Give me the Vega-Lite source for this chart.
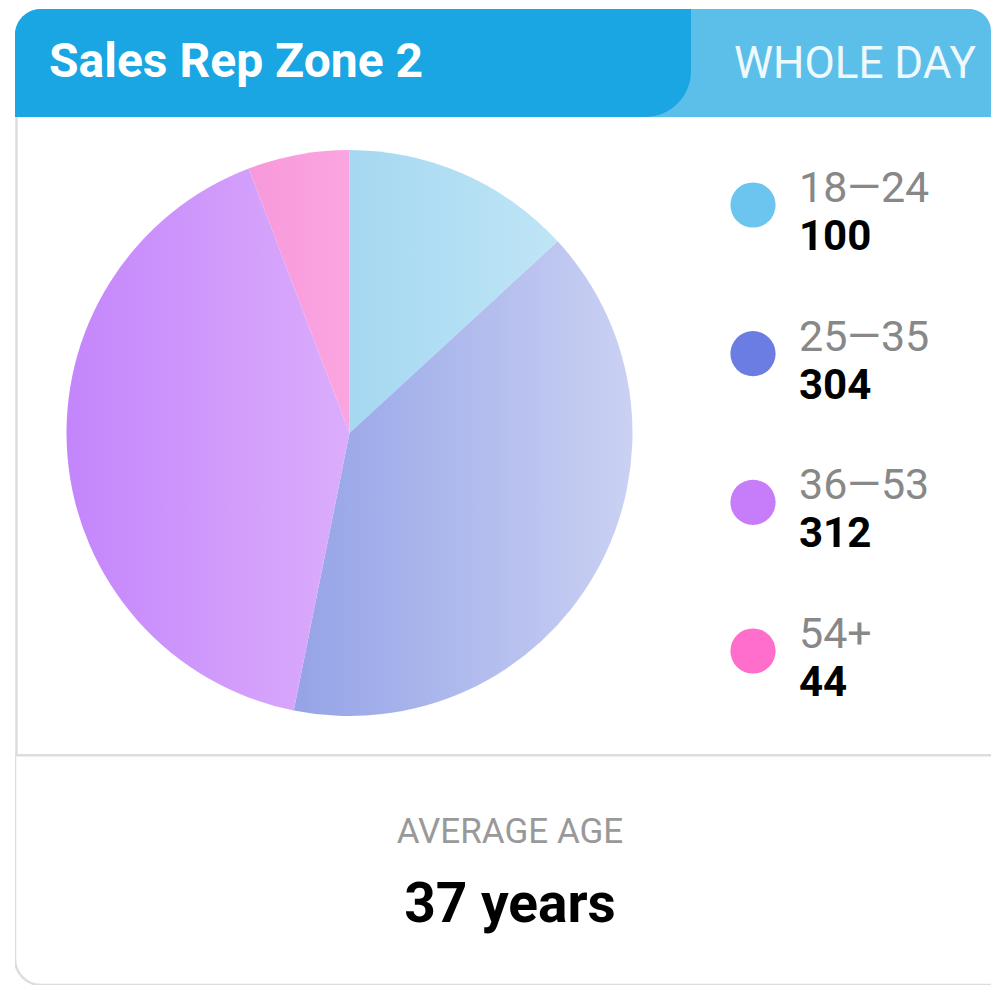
{
  "$schema": "https://vega.github.io/schema/vega-lite/v6.json",
  "background": "white",
  "padding": {"left": 15, "top": 9, "right": 0, "bottom": 0},
  "config": {"view": {"stroke": null}, "font": "Roboto", "text": {"font": "Roboto"}},
  "spacing": 0,
  "datasets": {
    "ages": [
      {"age": "18—24", "count": 100},
      {"age": "25—35", "count": 304},
      {"age": "36—53", "count": 312},
      {"age": "54+", "count": 44}
    ],
    "header": [{"title": "Sales Rep Zone 2", "period": "WHOLE DAY"}],
    "summary": [{"label": "AVERAGE AGE", "value": "37 years"}]
  },
  "vconcat": [
    {
      "spacing": 0,
      "bounds": "flush",
      "hconcat": [
        {
          "width": 676,
          "height": 108,
          "data": {"name": "header"},
          "layer": [
            {"mark": {"type": "rect", "color": "#5bbfea", "cornerRadiusTopLeft": 26}, "encoding": {}},
            {"mark": {"type": "rect", "color": "#1aa6e2", "cornerRadiusTopLeft": 26, "cornerRadiusBottomRight": 46}, "encoding": {}},
            {
              "mark": {"type": "text", "align": "left", "baseline": "alphabetic", "fontSize": 48, "fontWeight": "bold", "color": "#ffffff"},
              "encoding": {"text": {"field": "title"}, "x": {"value": 34}, "y": {"value": 68}}
            }
          ]
        },
        {
          "width": 300,
          "height": 108,
          "data": {"name": "header"},
          "layer": [
            {"mark": {"type": "rect", "color": "#5bbfea", "cornerRadiusTopRight": 22}, "encoding": {}},
            {
              "mark": {"type": "text", "align": "left", "baseline": "alphabetic", "fontSize": 44, "color": "#eef9fd"},
              "encoding": {"text": {"field": "period"}, "x": {"value": 43}, "y": {"value": 69}}
            }
          ]
        }
      ]
    },
    {
      "spacing": 0,
      "bounds": "flush",
      "hconcat": [
        {
          "width": 669,
          "height": 637,
          "layer": [
            {
              "data": {"values": [{"edge": "left"}]},
              "mark": {"type": "rule", "color": "#dddddd", "strokeWidth": 2.5, "clip": true},
              "encoding": {"x": {"value": 1.5}}
            },
            {
              "data": {"name": "ages"},
              "mark": {"type": "arc", "outerRadius": 283, "stroke": null, "yOffset": -2.5},
              "encoding": {
                "theta": {"field": "count", "type": "quantitative", "stack": true},
                "order": {"field": "age", "sort": "ascending"},
                "color": {
                  "condition": [
                    {"test": "datum.age == '18—24'", "value": {"gradient": "linear", "x1": 0, "y1": 0, "x2": 1, "y2": 0, "stops": [{"offset": 0, "color": "#a5d8f1"}, {"offset": 1, "color": "#bfe5f6"}]}},
                    {"test": "datum.age == '25—35'", "value": {"gradient": "linear", "x1": 0, "y1": 0, "x2": 1, "y2": 0, "stops": [{"offset": 0, "color": "#95a3e7"}, {"offset": 1, "color": "#cad1f3"}]}},
                    {"test": "datum.age == '36—53'", "value": {"gradient": "linear", "x1": 0, "y1": 0, "x2": 1, "y2": 0, "stops": [{"offset": 0, "color": "#c485fb"}, {"offset": 1, "color": "#dbadfb"}]}}
                  ],
                  "value": {"gradient": "linear", "x1": 0, "y1": 0, "x2": 1, "y2": 0, "stops": [{"offset": 0, "color": "#f799db"}, {"offset": 1, "color": "#fba5e0"}]}
                }
              }
            }
          ]
        },
        {
          "width": 307,
          "height": 637,
          "data": {"name": "ages"},
          "encoding": {
            "y": {"field": "age", "type": "ordinal", "scale": {"type": "point", "range": [88, 534], "padding": 0}, "axis": null}
          },
          "layer": [
            {
              "mark": {"type": "circle", "size": 2043, "opacity": 1},
              "encoding": {
                "x": {"value": 69},
                "color": {"field": "age", "type": "nominal", "scale": {"domain": ["18—24", "25—35", "36—53", "54+"], "range": ["#6cc5ef", "#6b7de2", "#c77cf9", "#ff6ecb"]}, "legend": null}
              }
            },
            {
              "mark": {"type": "text", "align": "left", "baseline": "alphabetic", "fontSize": 43, "color": "#888888", "dy": -3},
              "encoding": {"x": {"value": 115}, "text": {"field": "age"}}
            },
            {
              "mark": {"type": "text", "align": "left", "baseline": "alphabetic", "fontSize": 42, "fontWeight": "bold", "color": "#000000", "dy": 45},
              "encoding": {"x": {"value": 115}, "text": {"field": "count"}}
            }
          ]
        }
      ]
    },
    {
      "width": 976,
      "height": 231,
      "data": {"name": "summary"},
      "layer": [
        {
          "mark": {"type": "rect", "filled": false, "color": "#dddddd", "strokeWidth": 2.5, "cornerRadiusBottomLeft": 26, "cornerRadiusBottomRight": 26, "xOffset": 40, "x2Offset": 1.5, "yOffset": 1.25, "y2Offset": -2, "clip": true},
          "encoding": {}
        },
        {
          "mark": {"type": "text", "align": "center", "baseline": "alphabetic", "fontSize": 35, "color": "#999999", "dx": 7},
          "encoding": {"text": {"field": "label"}, "y": {"value": 89}}
        },
        {
          "mark": {"type": "text", "align": "center", "baseline": "alphabetic", "fontSize": 55, "fontWeight": "bold", "color": "#000000", "dx": 7},
          "encoding": {"text": {"field": "value"}, "y": {"value": 168}}
        }
      ]
    }
  ]
}
